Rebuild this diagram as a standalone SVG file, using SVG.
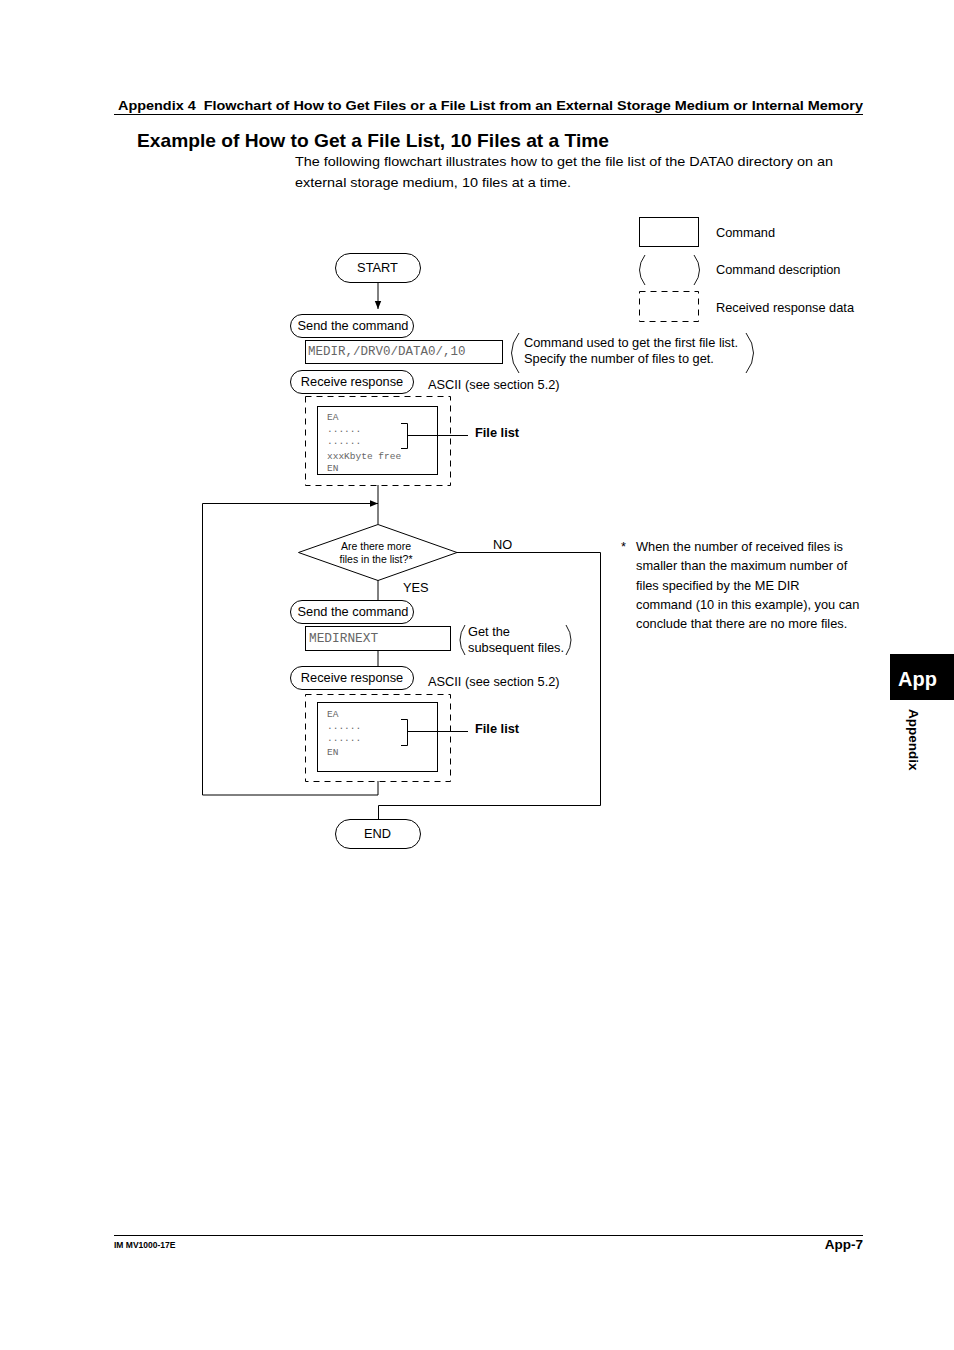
<svg xmlns="http://www.w3.org/2000/svg" width="954" height="1350" viewBox="0 0 954 1350">
<style>
text{font-family:"Liberation Sans",Arial,sans-serif;fill:#000}
.b{font-weight:bold}
.lbl{font-size:12.8px}
.t{font-size:12.8px}
.mono{font-family:"Liberation Mono","Courier New",monospace;fill:#666}
.sm{font-size:9.5px}
.ln{fill:none;stroke:#000;stroke-width:1}
.dash{fill:none;stroke:#000;stroke-width:1;stroke-dasharray:6 5}
.pill{fill:#fff;stroke:#000;stroke-width:1}
.par{fill:none;stroke:#000;stroke-width:0.9}
</style>
<defs>
<marker id="ar" viewBox="0 0 10 10" refX="10" refY="5" markerWidth="8" markerHeight="8" markerUnits="userSpaceOnUse" orient="auto"><path d="M0,1 L10,5 L0,9 z" fill="#000"/></marker>
</defs>
<rect width="954" height="1350" fill="#fff"/>

<!-- header -->
<text class="b" x="118" y="110" font-size="13.5" textLength="745" lengthAdjust="spacingAndGlyphs">Appendix 4&#160; Flowchart of How to Get Files or a File List from an External Storage Medium or Internal Memory</text>
<line x1="114" y1="114.5" x2="863" y2="114.5" stroke="#000" stroke-width="1"/>
<text class="b" x="137" y="147" font-size="18.5" textLength="472" lengthAdjust="spacingAndGlyphs">Example of How to Get a File List, 10 Files at a Time</text>
<text x="295" y="166" font-size="13.5" textLength="538" lengthAdjust="spacingAndGlyphs">The following flowchart illustrates how to get the file list of the DATA0 directory on an</text>
<text x="295" y="187" font-size="13.5" textLength="276" lengthAdjust="spacingAndGlyphs">external storage medium, 10 files at a time.</text>

<!-- legend -->
<g id="legend">
<rect x="639.5" y="217.5" width="59" height="29" class="ln"/>
<text x="716" y="237" class="t">Command</text>
<path d="M645,255 Q634,270 645,285" class="par"/>
<path d="M694,255 Q705,270 694,285" class="par"/>
<text x="716" y="274" class="t">Command description</text>
<rect x="639.5" y="291.5" width="59" height="30" class="dash"/>
<text x="716" y="312" class="t">Received response data</text>
</g>

<!-- connectors -->
<g id="connectors">
<line x1="378" y1="282" x2="378" y2="309" class="ln" marker-end="url(#ar)"/>
<line x1="378" y1="485" x2="378" y2="524" class="ln"/>
<polyline points="378,781 378,795 202.5,795 202.5,503.5 378,503.5" class="ln" marker-end="url(#ar)"/>
<line x1="378" y1="580" x2="378" y2="600" class="ln"/>
<line x1="378" y1="650" x2="378" y2="666" class="ln"/>
<polyline points="457,552.5 600.5,552.5 600.5,805.5 378.5,805.5 378.5,819" class="ln"/>
<text x="493" y="549" class="t">NO</text>
<text x="403" y="592" class="t">YES</text>
</g>

<g id="start">
<rect x="335.5" y="253.5" width="85" height="29" rx="14.5" class="pill"/>
<text x="377.5" y="272" font-size="12.8" text-anchor="middle">START</text>
</g>

<g id="send1">
<rect x="290.5" y="314.5" width="123" height="23" rx="11.5" class="pill"/>
<text x="353" y="330" class="lbl" text-anchor="middle">Send the command</text>
</g>

<g id="cmd1">
<rect x="305.5" y="340.5" width="197" height="23" class="ln"/>
<text x="308" y="355" class="mono" font-size="12.5">MEDIR,/DRV0/DATA0/,10</text>
</g>

<g id="desc1">
<path d="M519,333 Q504,353 519,373" class="par"/>
<path d="M746,333 Q761,353 746,373" class="par"/>
<text x="524" y="347" class="t">Command used to get the first file list.</text>
<text x="524" y="363" class="t">Specify the number of files to get.</text>
</g>

<g id="recv1">
<rect x="290.5" y="370.5" width="123" height="23" rx="11.5" class="pill"/>
<text x="352" y="386" class="lbl" text-anchor="middle">Receive response</text>
<text x="428" y="389" class="t">ASCII (see section 5.2)</text>
</g>

<g id="resp1">
<rect x="305.5" y="396.5" width="145" height="89" class="dash"/>
<rect x="317.5" y="406.5" width="120" height="68" class="ln"/>
<text x="327" y="420" class="mono sm">EA</text>
<text x="327" y="432" class="mono sm">......</text>
<text x="327" y="444" class="mono sm">......</text>
<text x="327" y="459" class="mono sm">xxxKbyte free</text>
<text x="327" y="471" class="mono sm">EN</text>
<polyline points="401,423.5 407.5,423.5 407.5,448.5 401,448.5" class="ln"/>
<line x1="407.5" y1="435.5" x2="468" y2="435.5" class="ln"/>
<text x="475" y="437" class="b" font-size="12.8">File list</text>
</g>

<g id="decision">
<polygon points="378,524.5 457,552.5 378,580.5 298.5,552.5" class="pill"/>
<text x="376" y="550" font-size="10.5" text-anchor="middle">Are there more</text>
<text x="376" y="563" font-size="10.5" text-anchor="middle">files in the list?*</text>
</g>

<g id="send2">
<rect x="290.5" y="600.5" width="123" height="23" rx="11.5" class="pill"/>
<text x="353" y="616" class="lbl" text-anchor="middle">Send the command</text>
</g>

<g id="cmd2">
<rect x="305.5" y="626.5" width="145" height="24" class="ln"/>
<text x="309" y="642" class="mono" font-size="12.8">MEDIRNEXT</text>
</g>

<g id="desc2">
<path d="M465,625 Q455,640 465,655" class="par"/>
<path d="M566,625 Q576,640 566,655" class="par"/>
<text x="468" y="636" class="t">Get the</text>
<text x="468" y="652" class="t">subsequent files.</text>
</g>

<g id="recv2">
<rect x="290.5" y="666.5" width="123" height="23" rx="11.5" class="pill"/>
<text x="352" y="682" class="lbl" text-anchor="middle">Receive response</text>
<text x="428" y="686" class="t">ASCII (see section 5.2)</text>
</g>

<g id="resp2">
<rect x="305.5" y="694.5" width="145" height="87" class="dash"/>
<rect x="317.5" y="702.5" width="120" height="69" class="ln"/>
<text x="327" y="717" class="mono sm">EA</text>
<text x="327" y="729" class="mono sm">......</text>
<text x="327" y="741" class="mono sm">......</text>
<text x="327" y="755" class="mono sm">EN</text>
<polyline points="401,719.5 407.5,719.5 407.5,745.5 401,745.5" class="ln"/>
<line x1="407.5" y1="731.5" x2="468" y2="731.5" class="ln"/>
<text x="475" y="733" class="b" font-size="12.8">File list</text>
</g>

<g id="end">
<rect x="335.5" y="819.5" width="85" height="29" rx="14.5" class="pill"/>
<text x="377.5" y="838" font-size="12.8" text-anchor="middle">END</text>
</g>

<!-- note -->
<g id="note">
<text x="621" y="551" class="t">*</text>
<text x="636" y="551" class="t">When the number of received files is</text>
<text x="636" y="570" class="t">smaller than the maximum number of</text>
<text x="636" y="590" class="t">files specified by the ME DIR</text>
<text x="636" y="609" class="t">command (10 in this example), you can</text>
<text x="636" y="628" class="t">conclude that there are no more files.</text>
</g>

<!-- side tab -->
<rect x="890" y="654" width="64" height="46" fill="#000"/>
<text x="898" y="686" class="b" font-size="20" style="fill:#fff">App</text>
<text class="b" font-size="13.5" transform="translate(909,709) rotate(90)">Appendix</text>

<!-- footer -->
<line x1="114" y1="1235.5" x2="863" y2="1235.5" stroke="#000" stroke-width="1"/>
<text x="114" y="1248" class="b" font-size="8.5">IM MV1000-17E</text>
<text x="863" y="1249" class="b" font-size="13.5" text-anchor="end">App-7</text>
</svg>
